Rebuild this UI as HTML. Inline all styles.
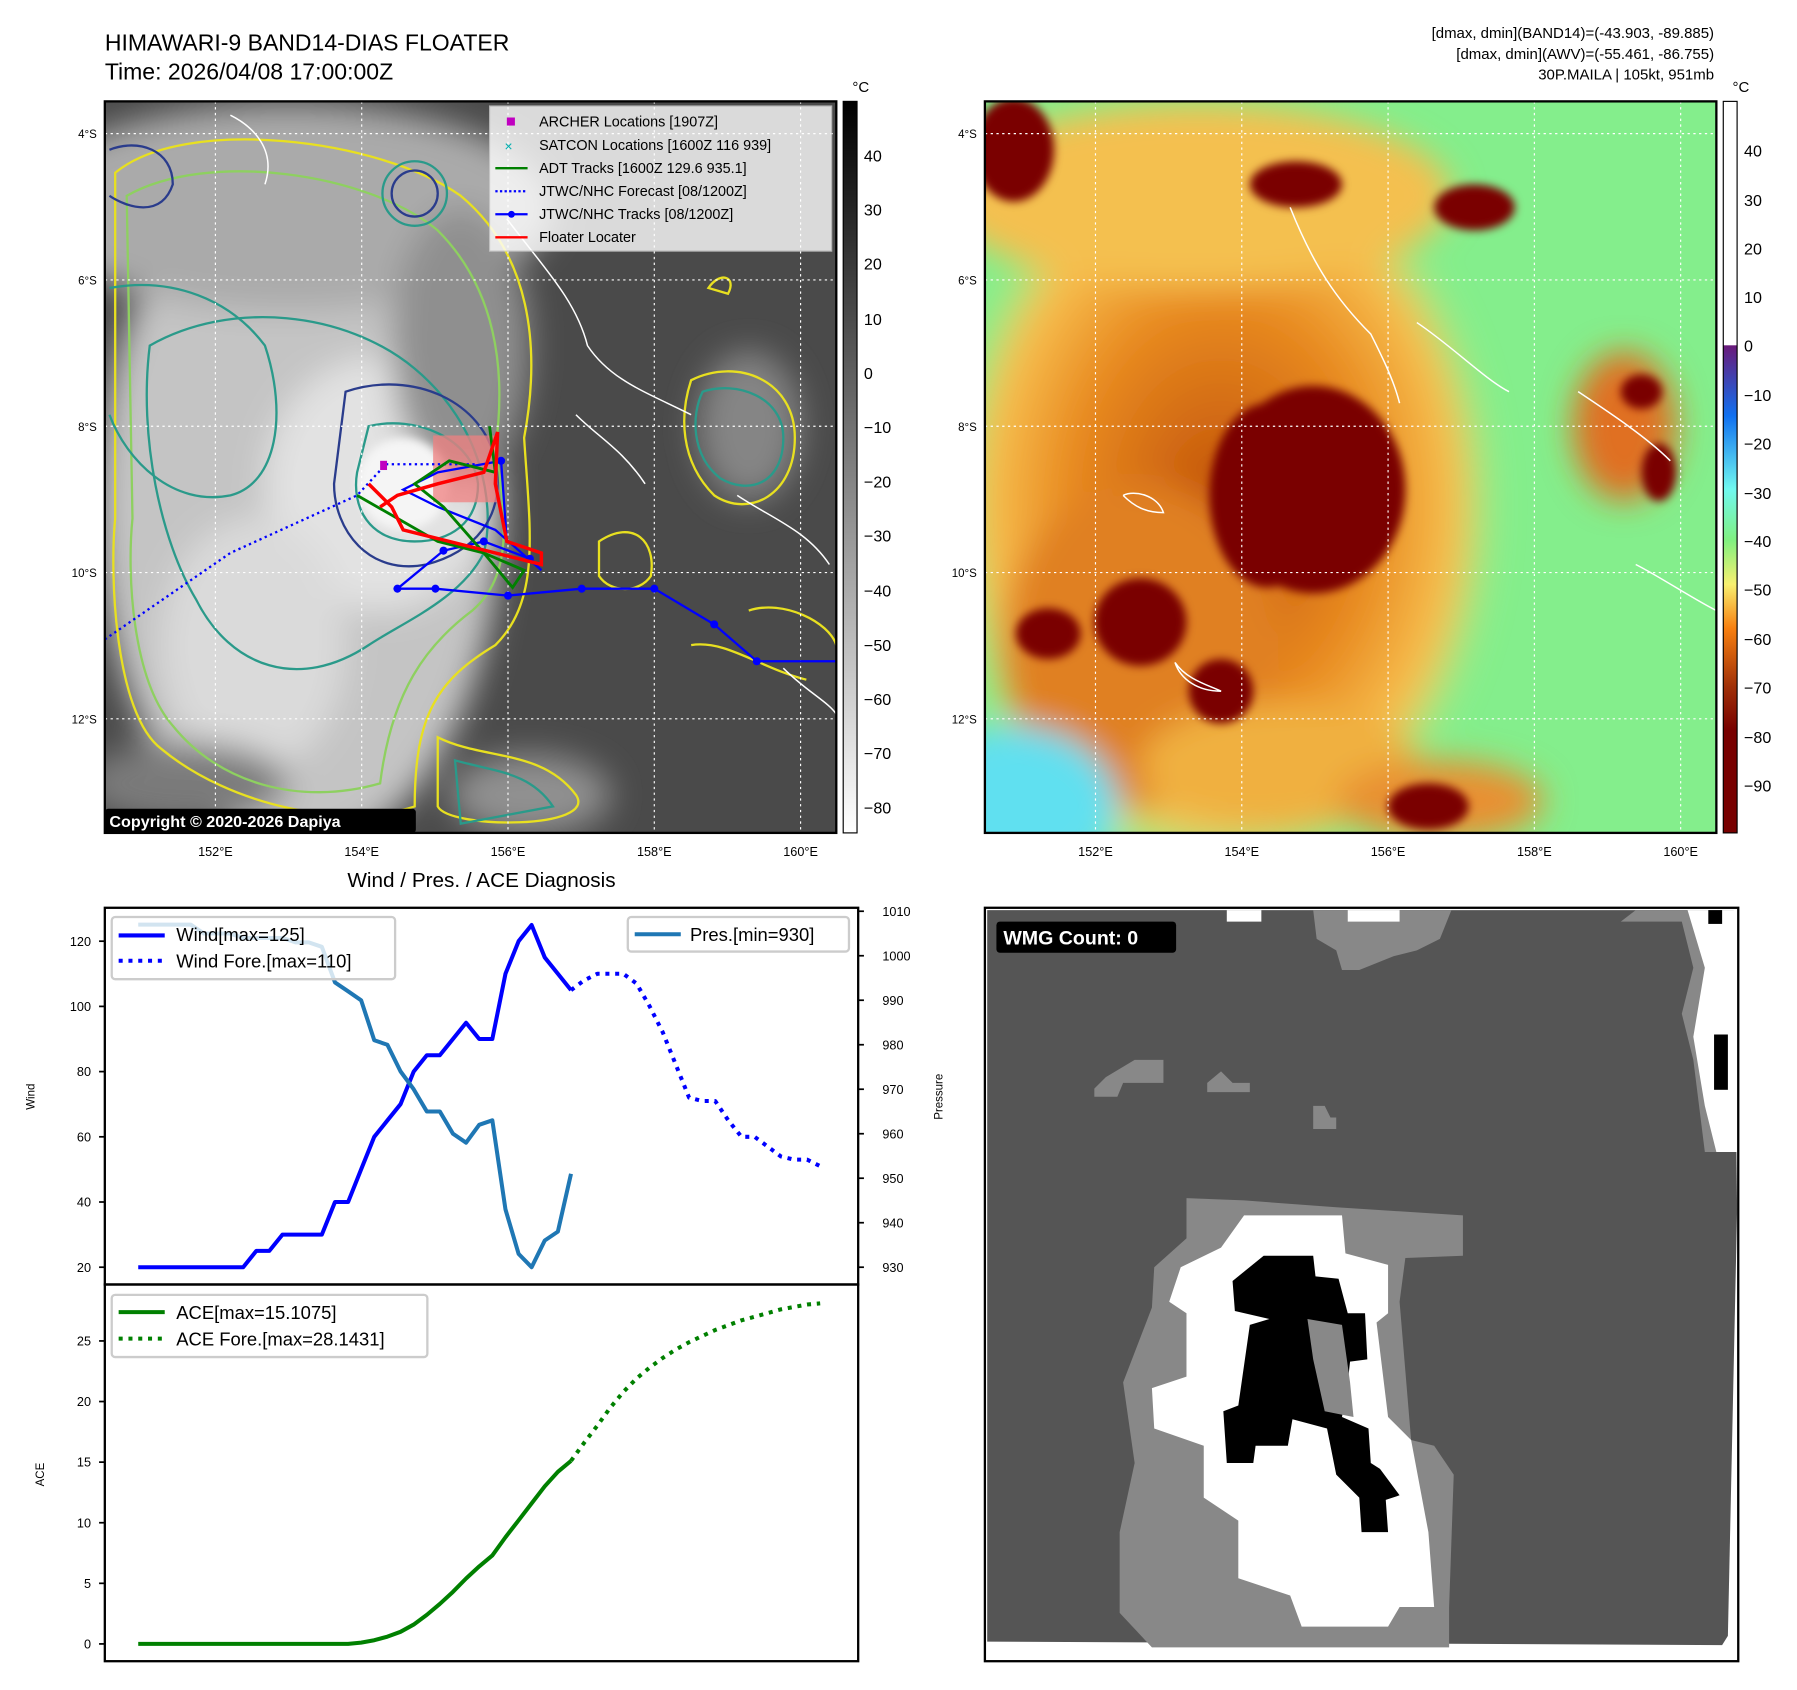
<!DOCTYPE html>
<html><head><meta charset="utf-8"><style>
html,body{margin:0;padding:0;background:#fff;width:1797px;height:1690px;overflow:hidden}
svg{display:block}
text{font-family:"Liberation Sans","DejaVu Sans",sans-serif}
</style></head><body>
<svg id="root" width="1797" height="1690" viewBox="0 0 1560 1467" preserveAspectRatio="none" xmlns="http://www.w3.org/2000/svg">
<defs>
<linearGradient id="gcb" x1="0" y1="0" x2="0" y2="1"><stop offset="0" stop-color="#000"/><stop offset="1" stop-color="#fff"/></linearGradient>
<linearGradient id="ccb" x1="0" y1="0" x2="0" y2="1">
<stop offset="0" stop-color="#fff"/><stop offset="0.333" stop-color="#fff"/><stop offset="0.334" stop-color="#6a1a7a"/>
<stop offset="0.43" stop-color="#1070f0"/><stop offset="0.53" stop-color="#70f8f0"/><stop offset="0.6" stop-color="#80f080"/>
<stop offset="0.66" stop-color="#f8f070"/><stop offset="0.72" stop-color="#f88010"/><stop offset="0.8" stop-color="#a03008"/>
<stop offset="0.86" stop-color="#780000"/><stop offset="1" stop-color="#780000"/></linearGradient>
<radialGradient id="orng" cx="0.5" cy="0.5" r="0.5"><stop offset="0" stop-color="#c05008"/><stop offset="0.55" stop-color="#e88a20"/><stop offset="0.85" stop-color="#f8c050"/><stop offset="1" stop-color="#f8e070" stop-opacity="0"/></radialGradient>
<filter id="blur" filterUnits="userSpaceOnUse" x="0" y="0" width="1560" height="1467"><feGaussianBlur stdDeviation="14"/></filter>
<filter id="blur2" filterUnits="userSpaceOnUse" x="0" y="0" width="1560" height="1467"><feGaussianBlur stdDeviation="4"/></filter>
<clipPath id="clipL"><rect x="91" y="88" width="635" height="635"/></clipPath>
<clipPath id="clipR"><rect x="855" y="88" width="635" height="635"/></clipPath>
</defs>

<text x="91" y="44" font-size="20">HIMAWARI-9 BAND14-DIAS FLOATER</text>
<text x="91" y="69" font-size="20">Time: 2026/04/08 17:00:00Z</text>
<g font-size="13" text-anchor="end">
<text x="1488" y="33">[dmax, dmin](BAND14)=(-43.903, -89.885)</text>
<text x="1488" y="51">[dmax, dmin](AWV)=(-55.461, -86.755)</text>
<text x="1488" y="69">30P.MAILA | 105kt, 951mb</text>
</g>

<!-- LEFT MAP -->
<g clip-path="url(#clipL)">
<rect x="91" y="88" width="635" height="635" fill="#4a4a4a"/>
<g filter="url(#blur)">
<ellipse cx="260" cy="440" rx="175" ry="300" fill="#c4c4c4"/>
<ellipse cx="250" cy="180" rx="230" ry="90" fill="#aaaaaa"/>
<ellipse cx="330" cy="420" rx="100" ry="110" fill="#e2e2e2"/>
<ellipse cx="220" cy="560" rx="80" ry="110" fill="#dadada"/>
<ellipse cx="460" cy="690" rx="70" ry="35" fill="#909090"/>
<ellipse cx="650" cy="370" rx="45" ry="65" fill="#858585"/>
<ellipse cx="160" cy="680" rx="90" ry="35" fill="#7a7a7a"/>
<ellipse cx="400" cy="300" rx="60" ry="120" fill="#8f8f8f"/>
</g>
<ellipse cx="350" cy="420" rx="40" ry="40" fill="#f5f5f5" filter="url(#blur2)"/>
<g fill="none" stroke-width="2">
<path d="M100 150 C160 100 330 120 400 170 C460 220 470 300 455 380 C460 460 470 520 430 560 C380 590 360 620 360 700 C300 720 200 700 140 650 C100 620 95 500 100 450 Z" stroke="#e8e020"/>
<path d="M110 170 C180 130 320 150 380 200 C430 250 440 320 430 390 C440 450 445 500 410 530 C370 560 340 600 330 680 C260 700 190 680 150 630 C115 590 110 500 115 450 Z" stroke="#8ed060"/>
<path d="M130 300 C200 260 300 270 360 320 C420 370 430 440 420 480 C400 520 350 540 320 560 C260 600 200 580 170 520 C140 470 120 380 130 300 Z" stroke="#2a9a8a"/>
<path d="M300 340 C360 320 420 350 430 400 C440 450 410 480 370 490 C320 500 290 460 290 420 Z" stroke="#2a3c8c"/>
<path d="M320 370 C360 360 410 380 415 420 C415 455 390 470 360 470 C320 470 305 440 310 410 Z" stroke="#2a9a8a"/>
<path d="M95 250 C150 240 200 260 230 300 C250 360 240 420 200 430 C150 440 110 400 95 360" stroke="#2a9a8a"/>
<circle cx="360" cy="168" r="20" stroke="#2a3c8c"/><circle cx="360" cy="168" r="28" stroke="#2a9a8a"/>
<path d="M95 130 C120 120 150 130 150 160 C140 190 110 180 95 170" stroke="#2a3c8c"/>
<path d="M600 330 C640 310 690 330 690 380 C690 430 650 450 620 430 C590 400 590 360 600 330 Z" stroke="#e8e020"/>
<path d="M610 340 C640 330 680 345 680 380 C680 420 650 430 625 415 C600 395 600 360 610 340 Z" stroke="#2a9a8a"/>
<path d="M520 470 C550 450 570 470 565 500 C555 515 530 515 520 500 Z" stroke="#e8e020"/>
<path d="M380 640 C420 660 470 650 500 690 C520 720 390 720 380 700 Z" stroke="#e8e020"/>
<path d="M395 660 C430 670 460 670 480 700 L400 715 Z" stroke="#2a9a8a"/>
<path d="M615 250 C625 235 640 240 632 255 Z" stroke="#e8e020"/>
<path d="M650 530 C680 520 720 540 726 560 M600 560 C630 555 660 580 700 590" stroke="#e8e020"/>
</g>
<g fill="none" stroke="#fff" stroke-width="1.3">
<path d="M440 190 C470 230 500 260 510 300 C530 330 560 340 600 360 M500 360 C520 380 540 390 560 420 M640 430 C670 450 700 460 720 490 M680 580 C700 600 720 610 726 620 M200 100 C220 110 240 130 230 160"/>
</g>
<g stroke="#fff" stroke-width="1" stroke-dasharray="2,3">
<line x1="187" y1="88" x2="187" y2="723"/><line x1="314" y1="88" x2="314" y2="723"/><line x1="441" y1="88" x2="441" y2="723"/><line x1="568" y1="88" x2="568" y2="723"/><line x1="695" y1="88" x2="695" y2="723"/>
<line x1="91" y1="116" x2="726" y2="116"/><line x1="91" y1="243" x2="726" y2="243"/><line x1="91" y1="370" x2="726" y2="370"/><line x1="91" y1="497" x2="726" y2="497"/><line x1="91" y1="624" x2="726" y2="624"/>
</g>
<rect x="376" y="378" width="56" height="58" fill="#f08080" opacity="0.75"/>
<polyline points="91,555 200,480 310,430 335,403 415,403" fill="none" stroke="#0000ff" stroke-width="2" stroke-dasharray="2,3"/>
<g>
<polyline points="345,511 378,511 441,517 505,511 568,511 620,542 657,574 726,574" fill="none" stroke="#0000ff" stroke-width="2"/>
<polyline points="345,511 385,478 420,470 460,485 470,495 430,460 380,440 350,425 380,410 435,400 440,470" fill="none" stroke="#0000ff" stroke-width="2"/>
<g fill="#0000ff"><circle cx="345" cy="511" r="3.5"/><circle cx="378" cy="511" r="3.5"/><circle cx="441" cy="517" r="3.5"/><circle cx="505" cy="511" r="3.5"/><circle cx="568" cy="511" r="3.5"/><circle cx="620" cy="542" r="3.5"/><circle cx="657" cy="574" r="3.5"/><circle cx="385" cy="478" r="3.5"/><circle cx="420" cy="470" r="3.5"/><circle cx="460" cy="485" r="3.5"/><circle cx="435" cy="400" r="3.5"/></g>
</g>
<polyline points="310,430 345,450 380,470 420,480 455,495 445,510 420,480 385,440 360,420 390,400 430,410 425,370" fill="none" stroke="#008000" stroke-width="2.5"/>
<polyline points="320,420 340,440 350,460 390,470 470,490 470,480 440,470 430,420 432,375 420,410 380,420 345,430 330,440" fill="none" stroke="#ff0000" stroke-width="3"/>
<rect x="330" y="400" width="6" height="8" fill="#c000c0"/>
</g>
<rect x="91" y="88" width="635" height="635" fill="none" stroke="#000" stroke-width="2"/>
<g>
<rect x="425" y="92" width="297" height="126" fill="#fff" opacity="0.8" stroke="#ccc"/>
<g font-size="12.5">
<rect x="440" y="102" width="7" height="7" fill="#c000c0"/><text x="468" y="110">ARCHER Locations [1907Z]</text>
<text x="438" y="131" fill="#00b0b0" font-size="12">×</text><text x="468" y="130">SATCON Locations [1600Z 116 939]</text>
<line x1="430" y1="146" x2="458" y2="146" stroke="#008000" stroke-width="2"/><text x="468" y="150">ADT Tracks [1600Z 129.6 935.1]</text>
<line x1="430" y1="166" x2="458" y2="166" stroke="#00f" stroke-width="2" stroke-dasharray="2,2"/><text x="468" y="170">JTWC/NHC Forecast [08/1200Z]</text>
<line x1="430" y1="186" x2="458" y2="186" stroke="#00f" stroke-width="2"/><circle cx="444" cy="186" r="3" fill="#00f"/><text x="468" y="190">JTWC/NHC Tracks [08/1200Z]</text>
<line x1="430" y1="206" x2="458" y2="206" stroke="#f00" stroke-width="2"/><text x="468" y="210">Floater Locater</text>
</g></g>
<rect x="91" y="702" width="270" height="21" rx="3" fill="#000"/>
<text x="95" y="718" font-size="14" font-weight="bold" fill="#fff">Copyright © 2020-2026 Dapiya</text>
<g font-size="10" text-anchor="end">
<text x="84" y="120">4°S</text><text x="84" y="247">6°S</text><text x="84" y="374">8°S</text><text x="84" y="501">10°S</text><text x="84" y="628">12°S</text></g>
<g font-size="11" text-anchor="middle">
<text x="187" y="743">152°E</text><text x="314" y="743">154°E</text><text x="441" y="743">156°E</text><text x="568" y="743">158°E</text><text x="695" y="743">160°E</text></g>
<rect x="732" y="88" width="12" height="635" fill="url(#gcb)" stroke="#000"/>
<text x="740" y="80" font-size="13">°C</text>
<g font-size="14">
<text x="750" y="140">40</text><text x="750" y="187">30</text><text x="750" y="234">20</text><text x="750" y="282">10</text><text x="750" y="329">0</text>
<text x="750" y="376">−10</text><text x="750" y="423">−20</text><text x="750" y="470">−30</text><text x="750" y="518">−40</text><text x="750" y="565">−50</text><text x="750" y="612">−60</text><text x="750" y="659">−70</text><text x="750" y="706">−80</text></g>

<!-- RIGHT MAP -->
<g clip-path="url(#clipR)">
<rect x="855" y="88" width="635" height="635" fill="#84ee8c"/>
<g filter="url(#blur)">
<ellipse cx="1060" cy="440" rx="240" ry="320" fill="url(#orng)"/>
<ellipse cx="1040" cy="170" rx="220" ry="80" fill="#f4c050"/>
<ellipse cx="990" cy="560" rx="120" ry="140" fill="#e08020"/>
<ellipse cx="1110" cy="665" rx="120" ry="55" fill="#f0b040"/>
<ellipse cx="1250" cy="695" rx="90" ry="35" fill="#e89030"/>
<ellipse cx="1410" cy="370" rx="45" ry="65" fill="#e07020"/>
<ellipse cx="880" cy="700" rx="90" ry="70" fill="#60e0f0"/>
</g>
<g fill="#7a0000" filter="url(#blur2)">
<ellipse cx="1140" cy="425" rx="80" ry="90"/>
<ellipse cx="1100" cy="430" rx="50" ry="80"/>
<ellipse cx="880" cy="130" rx="35" ry="45"/>
<ellipse cx="1125" cy="160" rx="40" ry="20"/>
<ellipse cx="1280" cy="180" rx="35" ry="20"/>
<ellipse cx="990" cy="540" rx="40" ry="38"/>
<ellipse cx="1060" cy="600" rx="28" ry="28"/>
<ellipse cx="1425" cy="340" rx="18" ry="15"/>
<ellipse cx="1440" cy="410" rx="15" ry="25"/>
<ellipse cx="1240" cy="700" rx="35" ry="20"/>
<ellipse cx="910" cy="550" rx="28" ry="22"/>
</g>
<g fill="none" stroke="#fff" stroke-width="1.3">
<path d="M1120 180 C1140 230 1160 260 1190 290 C1200 310 1210 330 1215 350 M1230 280 C1260 300 1290 330 1310 340 M1370 340 C1400 360 1430 380 1450 400 M975 430 C985 425 1005 430 1010 445 C995 445 985 440 975 430 M1020 575 C1030 590 1050 595 1060 600 C1040 600 1025 590 1020 575 M1420 490 C1440 500 1470 520 1490 530"/>
</g>
<g stroke="#fff" stroke-width="1" stroke-dasharray="2,3">
<line x1="951" y1="88" x2="951" y2="723"/><line x1="1078" y1="88" x2="1078" y2="723"/><line x1="1205" y1="88" x2="1205" y2="723"/><line x1="1332" y1="88" x2="1332" y2="723"/><line x1="1459" y1="88" x2="1459" y2="723"/>
<line x1="855" y1="116" x2="1490" y2="116"/><line x1="855" y1="243" x2="1490" y2="243"/><line x1="855" y1="370" x2="1490" y2="370"/><line x1="855" y1="497" x2="1490" y2="497"/><line x1="855" y1="624" x2="1490" y2="624"/>
</g></g>
<rect x="855" y="88" width="635" height="635" fill="none" stroke="#000" stroke-width="2"/>
<g font-size="10" text-anchor="end">
<text x="848" y="120">4°S</text><text x="848" y="247">6°S</text><text x="848" y="374">8°S</text><text x="848" y="501">10°S</text><text x="848" y="628">12°S</text></g>
<g font-size="11" text-anchor="middle">
<text x="951" y="743">152°E</text><text x="1078" y="743">154°E</text><text x="1205" y="743">156°E</text><text x="1332" y="743">158°E</text><text x="1459" y="743">160°E</text></g>
<rect x="1496" y="88" width="12" height="635" fill="url(#ccb)" stroke="#000"/>
<text x="1504" y="80" font-size="13">°C</text>
<g font-size="14">
<text x="1514" y="136">40</text><text x="1514" y="179">30</text><text x="1514" y="221">20</text><text x="1514" y="263">10</text><text x="1514" y="305">0</text>
<text x="1514" y="348">−10</text><text x="1514" y="390">−20</text><text x="1514" y="433">−30</text><text x="1514" y="475">−40</text><text x="1514" y="517">−50</text><text x="1514" y="560">−60</text><text x="1514" y="602">−70</text><text x="1514" y="645">−80</text><text x="1514" y="687">−90</text></g>

<!-- BOTTOM RIGHT WMG -->
<g>
<rect x="855" y="788" width="654" height="654" fill="#fff"/>
<polygon points="857,790 1505,790 1508,1050 1500,1420 1495,1428 857,1425" fill="#555"/>
<polygon points="1140,790 1260,790 1250,815 1230,825 1210,830 1180,842 1165,842 1160,825 1143,815" fill="#888"/>
<polygon points="1065,790 1095,790 1095,800 1065,800" fill="#fff"/>
<polygon points="1170,790 1215,790 1215,800 1170,800" fill="#fff"/>
<polygon points="1407,800 1460,800 1470,840 1460,880 1470,920 1480,1000 1505,1000 1505,790 1420,790" fill="#888"/>
<polygon points="1465,790 1509,790 1509,1000 1490,1000 1480,960 1470,900 1480,840" fill="#fff"/>
<rect x="1483" y="790" width="12" height="12" fill="#000"/><rect x="1488" y="898" width="12" height="48" fill="#000"/>
<polygon points="950,945 960,935 985,920 1010,920 1010,940 975,940 970,952 950,952" fill="#888"/>
<polygon points="1048,940 1060,930 1070,940 1085,940 1085,948 1048,948" fill="#888"/>
<polygon points="1140,960 1150,960 1155,970 1160,970 1160,980 1140,980" fill="#888"/>
<polygon points="1030,1040 1080,1042 1160,1048 1270,1055 1270,1090 1220,1092 1215,1130 1225,1250 1245,1255 1262,1280 1258,1395 1258,1430 1000,1430 972,1400 972,1330 985,1270 975,1200 1000,1135 1002,1100 1030,1075" fill="#888"/>
<polygon points="1080,1055 1165,1055 1168,1088 1205,1098 1205,1140 1195,1148 1205,1230 1225,1250 1240,1330 1245,1395 1215,1395 1205,1412 1130,1412 1120,1385 1075,1370 1075,1320 1045,1300 1045,1255 1002,1240 1000,1205 1030,1195 1030,1140 1015,1130 1025,1100 1060,1083" fill="#fff"/>
<polygon points="1097,1090 1140,1090 1142,1108 1162,1110 1170,1140 1185,1140 1187,1180 1172,1182 1170,1200 1165,1230 1188,1240 1190,1270 1198,1275 1215,1298 1203,1302 1205,1330 1182,1330 1180,1300 1160,1280 1152,1240 1122,1232 1118,1255 1090,1255 1088,1270 1065,1270 1062,1225 1075,1220 1085,1150 1102,1145 1072,1138 1070,1112" fill="#000"/>
<polygon points="1135,1145 1165,1150 1172,1200 1175,1230 1150,1225 1140,1180" fill="#888"/>
</g>
<rect x="855" y="788" width="654" height="654" fill="none" stroke="#000" stroke-width="2"/>
<rect x="865" y="800" width="156" height="27" rx="3" fill="#000"/>
<text x="871" y="820" font-size="17" font-weight="bold" fill="#fff">WMG Count: 0</text>

<!-- BOTTOM LEFT CHART -->
<text x="418" y="770" font-size="18" text-anchor="middle">Wind / Pres. / ACE Diagnosis</text>
<g id="chart"></g>
<rect x="91" y="788" width="654" height="327" fill="none" stroke="#000" stroke-width="2"/>
<rect x="91" y="1115" width="654" height="327" fill="none" stroke="#000" stroke-width="2"/>
<text transform="translate(30,952) rotate(-90)" font-size="10" text-anchor="middle">Wind</text>
<text transform="translate(818,952) rotate(-90)" font-size="10" text-anchor="middle">Pressure</text>
<text transform="translate(38,1280) rotate(-90)" font-size="10" text-anchor="middle">ACE</text>

<g>
<rect x="97" y="796" width="246" height="54" rx="3" fill="#fff" fill-opacity="0.8" stroke="#ccc" stroke-width="2"/>
<line x1="103" y1="812" x2="143" y2="812" stroke="#00f" stroke-width="3.5"/>
<line x1="103" y1="834" x2="143" y2="834" stroke="#00f" stroke-width="3.5" stroke-dasharray="3.5,5"/>
<text x="153" y="817" font-size="16">Wind[max=125]</text><text x="153" y="840" font-size="16">Wind Fore.[max=110]</text>
</g>
<g>
<rect x="545" y="796" width="192" height="30" rx="3" fill="#fff" fill-opacity="0.8" stroke="#ccc" stroke-width="2"/>
<line x1="551" y1="811" x2="591" y2="811" stroke="#1f77b4" stroke-width="3.5"/>
<text x="599" y="817" font-size="16">Pres.[min=930]</text>
</g>
<g>
<rect x="97" y="1124" width="274" height="54" rx="3" fill="#fff" fill-opacity="0.8" stroke="#ccc" stroke-width="2"/>
<line x1="103" y1="1139" x2="143" y2="1139" stroke="#008000" stroke-width="3.5"/>
<line x1="103" y1="1162" x2="143" y2="1162" stroke="#008000" stroke-width="3.5" stroke-dasharray="3.5,5"/>
<text x="153" y="1145" font-size="16">ACE[max=15.1075]</text><text x="153" y="1168" font-size="16">ACE Fore.[max=28.1431]</text>
</g>
<g id="chart-top"></g>
</svg>
<script>
const windObs = [20,20,20,20,20,20,20,20,20,25,25,30,30,30,30,40,40,50,60,65,70,80,85,85,90,95,90,90,110,120,125,115,110,105];
const windFore = [105,108,110,110,110,107,100,92,82,72,71,71,65,60,60,57,54,53,53,51];
const presObs = [1007,1007,1007,1007,1007,1005,1005,1005,1004,1004,1004,1004,1003,1003,1002,994,992,990,981,980,974,970,965,965,960,958,962,963,943,933,930,936,938,951];
const aceObs = [0,0,0,0,0,0,0,0,0,0,0,0,0,0,0,0,0,0.1,0.3,0.6,1.0,1.6,2.4,3.3,4.3,5.4,6.4,7.3,8.8,10.2,11.6,13.0,14.2,15.1];
const aceFore = [15.1,16.6,18,19.5,20.8,21.9,22.8,23.6,24.3,24.9,25.4,25.9,26.3,26.7,27,27.3,27.6,27.8,28,28.1];
const windTicks = [20,40,60,80,100,120];
const presTicks = [930,940,950,960,970,980,990,1000,1010];
const aceTicks = [0,5,10,15,20,25];

const NS='http://www.w3.org/2000/svg';
const g=document.getElementById('chart');
const NOBS=windObs.length, NFORE=windFore.length, NTOT=NOBS+NFORE-1;
const xS=i=>120+i*(712-120)/(NTOT-1);
const yW=v=>1100-(v-20)*(1100-817)/100;
const yP=v=>1100-(v-930)*(1100-791)/80;
const yA=v=>1427-v*(1427-1164)/25;
function mk(tag,attrs){const e=document.createElementNS(NS,tag);for(const k in attrs)e.setAttribute(k,attrs[k]);g.appendChild(e);return e;}
function line(vals,off,ys,color,dash,name){
  const pts=vals.map((v,i)=>xS(i+off).toFixed(1)+','+ys(v).toFixed(1)).join(' ');
  const e=mk('polyline',{points:pts,fill:'none',stroke:color,'stroke-width':3.5,'stroke-linejoin':'round'});
  if(dash)e.setAttribute('stroke-dasharray','3.5,5');
  
  
}
line(windObs,0,yW,'#0000ff',false,'wind-line');
line(windFore,NOBS-1,yW,'#0000ff',true,'wind-forecast-line');
line(presObs,NOBS-presObs.length,yP,'#1f77b4',false,'pressure-line');
line(aceObs,NOBS-aceObs.length,yA,'#008000',false,'ace-line');
line(aceFore,NOBS-1,yA,'#008000',true,'ace-forecast-line');
function tick(x1,x2,y,label,tx,anchor,name){
  mk('line',{x1:x1,x2:x2,y1:y,y2:y,stroke:'#000','stroke-width':1.5});
  const t=mk('text',{x:tx,y:y+4,'font-size':11,'text-anchor':anchor});t.textContent=label;
  
  
}
windTicks.forEach(v=>tick(86,91,yW(v),v,79,'end','wind-tick'));
presTicks.forEach(v=>tick(745,750,yP(v),v,766,'start','pressure-tick'));
aceTicks.forEach(v=>tick(86,91,yA(v),v,79,'end','ace-tick'));
</script>
</body></html>
